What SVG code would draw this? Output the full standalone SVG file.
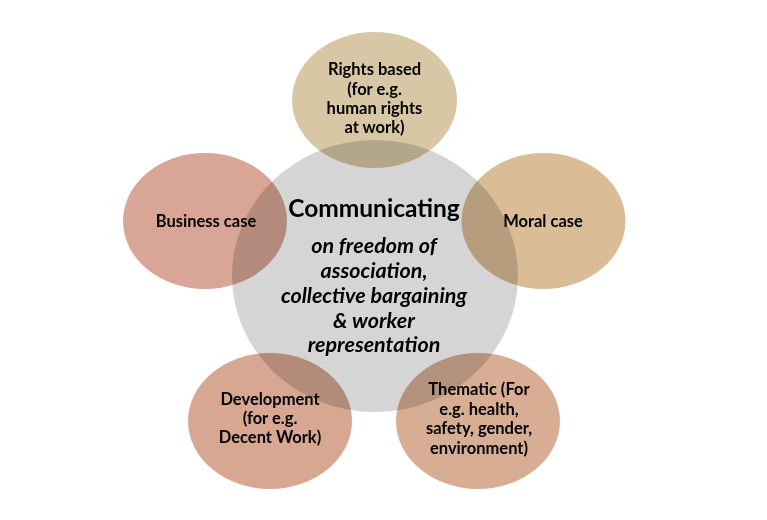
<svg xmlns="http://www.w3.org/2000/svg" width="767" height="520" viewBox="0 0 767 520">
<style>
.lbl{font-family:Lato,"Open Sans","Liberation Sans",sans-serif;font-weight:bold;font-size:16.5px;fill:#000;text-anchor:middle}
.title{font-family:Lato,"Open Sans","Liberation Sans",sans-serif;font-weight:bold;font-size:24.5px;fill:#000;text-anchor:middle}
.sub{font-family:Lato,"Open Sans","Liberation Sans",sans-serif;font-weight:bold;font-style:italic;font-size:21.5px;fill:#000;text-anchor:middle}
.ov{mix-blend-mode:multiply}
</style>
<rect width="767" height="520" fill="#ffffff"/>
<g id="center">
<ellipse cx="375" cy="276" rx="143" ry="136" fill="#d5d5d5"/>
</g>
<g id="rights">
<ellipse class="ov" cx="374.5" cy="100" rx="82.5" ry="68" fill="#d7c7a5"/>
</g>
<g id="business">
<ellipse class="ov" cx="205" cy="221" rx="82" ry="68" fill="#d8a596"/>
</g>
<g id="moral">
<ellipse class="ov" cx="543.5" cy="221" rx="82" ry="68" fill="#dabc96"/>
</g>
<g id="development">
<ellipse class="ov" cx="270" cy="421" rx="82" ry="68" fill="#d7a792"/>
</g>
<g id="thematic">
<ellipse class="ov" cx="478" cy="421" rx="82" ry="68" fill="#d7ae94"/>
</g>
<g id="labels">
<text class="title" x="374" y="217">Communicating</text>
<text class="sub" x="374" y="253">on freedom of</text>
<text class="sub" x="374" y="278">association,</text>
<text class="sub" x="374" y="303">collective bargaining</text>
<text class="sub" x="374" y="328">&amp; worker</text>
<text class="sub" x="374" y="352">representation</text>
<text class="lbl" x="374.5" y="75">Rights based</text>
<text class="lbl" x="374.5" y="95">(for e.g.</text>
<text class="lbl" x="374.5" y="114">human rights</text>
<text class="lbl" x="374.5" y="133">at work)</text>
<text class="lbl" x="206" y="227">Business case</text>
<text class="lbl" x="543" y="227">Moral case</text>
<text class="lbl" x="270" y="405">Development</text>
<text class="lbl" x="270" y="424">(for e.g.</text>
<text class="lbl" x="270" y="443">Decent Work)</text>
<text class="lbl" x="479" y="395">Thematic (For</text>
<text class="lbl" x="479" y="415">e.g. health,</text>
<text class="lbl" x="479" y="434">safety, gender,</text>
<text class="lbl" x="479" y="454">environment)</text>
</g>
<g id="connectors"></g>
</svg>
